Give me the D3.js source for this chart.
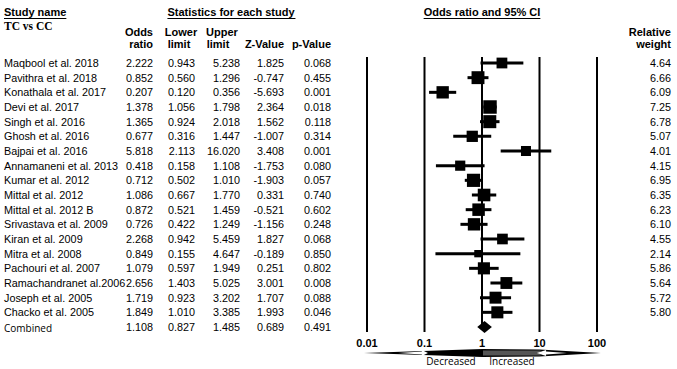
<!DOCTYPE html>
<html lang="en">
<head>
    <meta charset="UTF-8" />
    <title>Forest plot - TC vs CC</title>
    <script src="https://d3js.org/d3.v7.min.js"></script>
    <style>
        body { margin: 0; background: #fff; }
        text { font-family: 'Liberation Sans', Arial, sans-serif; fill: #000; }
        .hdr { font-weight: bold; font-size: 11px; }
        .cell { font-size: 10.8px; }
        .calib { font-family: 'Open Sans', sans-serif; }
    </style>
</head>
<body>
<svg id="chart"></svg>
<script>
    // study data
    const studies = ["Maqbool et al. 2018", "Pavithra et al. 2018", "Konathala et  al. 2017", "Devi et al. 2017",
        "Singh et al. 2016", "Ghosh et al. 2016", "Bajpai et al. 2016", "Annamaneni et al. 2013", "Kumar et al. 2012",
        "Mittal et al. 2012", "Mittal et al. 2012 B", "Srivastava et al. 2009", "Kiran et al. 2009", "Mitra et al. 2008",
        "Pachouri  et al. 2007", "Ramachandranet al.2006", "Joseph et al. 2005", "Chacko et al. 2005"];
    const oddsRatio = [2.222, 0.852, 0.207, 1.378, 1.365, 0.677, 5.818, 0.418, 0.712, 1.086, 0.872, 0.726, 2.268, 0.849, 1.079, 2.656, 1.719, 1.849];
    const lowerLimit = [0.943, 0.560, 0.120, 1.056, 0.924, 0.316, 2.113, 0.158, 0.502, 0.667, 0.521, 0.422, 0.942, 0.155, 0.597, 1.403, 0.923, 1.010];
    const upperLimit = [5.238, 1.296, 0.356, 1.798, 2.018, 1.447, 16.020, 1.108, 1.010, 1.770, 1.459, 1.249, 5.459, 4.647, 1.949, 5.025, 3.202, 3.385];
    const zValue = [1.825, -0.747, -5.693, 2.364, 1.562, -1.007, 3.408, -1.753, -1.903, 0.331, -0.521, -1.156, 1.827, -0.189, 0.251, 3.001, 1.707, 1.993];
    const pValue = [0.068, 0.455, 0.001, 0.018, 0.118, 0.314, 0.001, 0.080, 0.057, 0.740, 0.602, 0.248, 0.068, 0.850, 0.802, 0.008, 0.088, 0.046];
    const relWeight = [4.64, 6.66, 6.09, 7.25, 6.78, 5.07, 4.01, 4.15, 6.95, 6.35, 6.23, 6.10, 4.55, 2.14, 5.86, 5.64, 5.72, 5.80];
    const combined = { or: 1.108, lo: 0.827, hi: 1.485, z: 0.689, p: 0.491 };
    const axisTicks = [0.01, 0.1, 1, 10, 100];

    const W = 677, H = 369;
    const svg = d3.select("#chart").attr("width", W).attr("height", H);

    const rows = studies.map((s, i) => ({
        name: s, or: oddsRatio[i], lo: lowerLimit[i], hi: upperLimit[i],
        z: zValue[i], p: pValue[i], w: relWeight[i]
    }));

    // row positions
    const yScale = d3.scalePoint()
        .domain(d3.range(studies.length + 1))
        .range([63, 327]);

    // log scale for the forest part
    const xScale = d3.scaleLog().domain([0.01, 100]).range([367, 597]);

    // ---- headers ----
    function underlined(txt, x, y, anchor) {
        const t = svg.append("text").attr("class", "hdr").attr("x", x).attr("y", y)
            .attr("text-anchor", anchor).text(txt);
        const b = t.node().getBBox();
        svg.append("line").attr("x1", b.x).attr("x2", b.x + b.width)
            .attr("y1", y + 2.5).attr("y2", y + 2.5).attr("stroke", "#000").attr("stroke-width", 1);
    }
    underlined("Study name", 4, 16, "start");
    underlined("Statistics for each study", 231, 16, "middle");
    underlined("Odds ratio and 95% CI", 482, 16, "middle");

    svg.append("text").attr("x", 4).attr("y", 30)
        .style("font-family", "'Liberation Serif', serif").style("font-size", "11.5px").style("font-weight", "bold")
        .text("TC vs CC");

    const colRight = [153, 195, 240, 284, 331];
    const colHeads = [["Odds", "ratio"], ["Lower", "limit"], ["Upper", "limit"], ["", "Z-Value"], ["", "p-Value"]];
    const colHeadX = [[153, 153], [181, 179], [222, 218], [0, 284], [0, 331]];
    const colAnchor = ["end", "middle", "middle", "end", "end"];
    colHeads.forEach((h, i) => {
        h.forEach((t, j) => {
            if (!t) return;
            svg.append("text").attr("class", "hdr").attr("x", colHeadX[i][j]).attr("y", 36 + j * 12)
                .attr("text-anchor", colAnchor[i]).text(t);
        });
    });
    svg.append("text").attr("class", "hdr").attr("x", 671).attr("y", 36).attr("text-anchor", "end").text("Relative");
    svg.append("text").attr("class", "hdr").attr("x", 671).attr("y", 48).attr("text-anchor", "end").text("weight");

    // ---- table rows ----
    const fmt = v => v.toFixed(3);   // plain hyphen for negatives
    const g = svg.append("g").attr("class", "table");
    rows.forEach((r, i) => {
        const y = yScale(i) + 4;
        g.append("text").attr("class", "cell").attr("x", 4).attr("y", y).text(r.name);
        [r.or, r.lo, r.hi, r.z, r.p].forEach((v, k) => {
            g.append("text").attr("class", "cell").attr("x", colRight[k]).attr("y", y)
                .attr("text-anchor", "end").text(fmt(v));
        });
        g.append("text").attr("class", "cell").attr("x", 671).attr("y", y)
            .attr("text-anchor", "end").text(r.w.toFixed(2));
    });
    const yc = yScale(studies.length) + 4;
    g.append("text").attr("class", "calib").attr("x", 4).attr("y", yc + 1).style("font-size", "10px").text("Combined");
    [combined.or, combined.lo, combined.hi, combined.z, combined.p].forEach((v, k) => {
        g.append("text").attr("class", "cell").attr("x", colRight[k]).attr("y", yc)
            .attr("text-anchor", "end").text(fmt(v));
    });

    // ---- forest plot ----
    const f = svg.append("g");
    axisTicks.forEach(t => {
        f.append("line").attr("x1", xScale(t)).attr("x2", xScale(t))
            .attr("y1", 57).attr("y2", t === 1 ? 327 : 332)
            .attr("stroke", "#000").attr("stroke-width", 2);
        f.append("text").attr("x", xScale(t)).attr("y", 347).attr("text-anchor", "middle")
            .style("font-weight", "bold").style("font-size", "11px").text(t);
    });

    // CI lines
    f.selectAll(".ci").data(rows).enter().append("line")
        .attr("x1", d => xScale(d.lo)).attr("x2", d => xScale(Math.min(d.hi, 100)))
        .attr("y1", (d, i) => yScale(i)).attr("y2", (d, i) => yScale(i))
        .attr("stroke", "#000").attr("stroke-width", 3);
    // squares sized by weight
    f.selectAll(".sq").data(rows).enter().append("rect")
        .attr("x", d => xScale(d.or) - 2.5 * Math.sqrt(d.w))
        .attr("y", (d, i) => yScale(i) - 2.5 * Math.sqrt(d.w))
        .attr("width", d => 5 * Math.sqrt(d.w))
        .attr("height", d => 5 * Math.sqrt(d.w))
        .attr("fill", "#000");
    // combined diamond
    const ycd = yScale(studies.length);
    f.append("polygon")
        .attr("points", [[xScale(combined.lo), ycd], [xScale(combined.or), ycd - 6],
            [xScale(combined.hi), ycd], [xScale(combined.or), ycd + 6]].map(p => p.join(",")).join(" "))
        .attr("fill", "#000");

    // ---- bottom arrow ----
    const ay = 353;
    const x1 = xScale(1);
    f.append("polygon")
        .attr("points", [[xScale(0.01) - 3, ay], [x1, ay - 4], [x1, ay + 4]].map(p => p.join(",")).join(" "))
        .attr("fill", "#000");
    f.append("polygon")
        .attr("points", [[x1, ay - 4], [xScale(10), ay - 3.5], [xScale(100) + 4, ay], [xScale(10), ay + 3.5], [x1, ay + 4]].map(p => p.join(",")).join(" "))
        .attr("fill", "#000");
    f.append("rect").attr("x", x1 + 1).attr("y", ay - 2.5).attr("width", xScale(10) - x1).attr("height", 5)
        .attr("fill", "#555");
    // white inner arrows
    f.append("polygon")
        .attr("points", [[xScale(0.035), ay], [xScale(0.09), ay - 1.5], [xScale(0.09), ay - 3],
            [xScale(0.115), ay], [xScale(0.09), ay + 3], [xScale(0.09), ay + 1.5]].map(p => p.join(",")).join(" "))
        .attr("fill", "#fff");
    f.append("polygon")
        .attr("points", [[xScale(9), ay], [xScale(13), ay - 3], [xScale(13), ay - 1.5],
            [xScale(30), ay], [xScale(13), ay + 1.5], [xScale(13), ay + 3]].map(p => p.join(",")).join(" "))
        .attr("fill", "#fff");

    f.append("text").attr("class", "calib").attr("x", 451).attr("y", 365).attr("text-anchor", "middle")
        .style("font-size", "10px").text("Decreased");
    f.append("text").attr("class", "calib").attr("x", 512).attr("y", 365).attr("text-anchor", "middle")
        .style("font-size", "10px").text("Increased");
</script>
</body>
</html>
